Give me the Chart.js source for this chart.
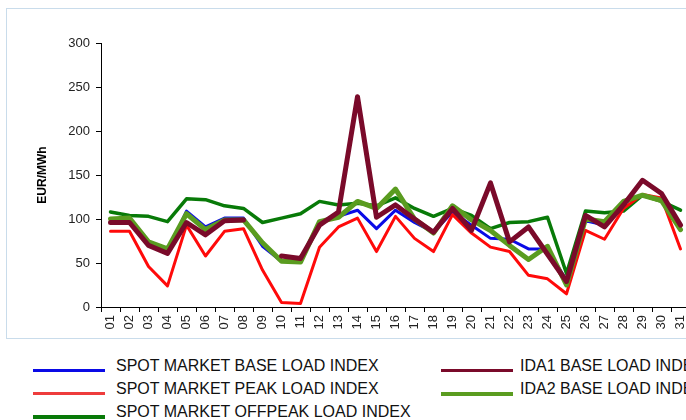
<!DOCTYPE html>
<html>
<head>
<meta charset="utf-8">
<script src="https://cdn.jsdelivr.net/npm/chart.js@4.4.1/dist/chart.umd.min.js"></script>
<style>
  html, body { margin: 0; padding: 0; width: 686px; height: 420px; overflow: hidden; background: #fff; font-family: "Liberation Sans", Arial, sans-serif; }
  #panel { position: absolute; left: 6px; top: 8px; width: 760px; height: 329px; border: 1px solid #c9dceb; background: #fff; }
  #wrap { position: absolute; left: 0; top: 0; width: 700px; height: 340px; }
  .lg { position: absolute; font-size: 16px; color: #111; white-space: nowrap; line-height: 18px; }
  .sw { position: absolute; height: 4px; width: 72px; }
</style>
</head>
<body>
<div id="panel"></div>
<div id="wrap"><canvas id="c" width="700" height="340"></canvas></div>
<div id="legend"></div>
<script>
const days = ["01","02","03","04","05","06","07","08","09","10","11","12","13","14","15","16","17","18","19","20","21","22","23","24","25","26","27","28","29","30","31"];
const yTicks = [0, 50, 100, 150, 200, 250, 300];
const seriesNames = ["SPOT MARKET BASE LOAD INDEX", "SPOT MARKET PEAK LOAD INDEX", "SPOT MARKET OFFPEAK LOAD INDEX", "IDA1 BASE LOAD INDEX", "IDA2 BASE LOAD INDEX"];
const spotBase    = [98,100,72,63,109,91,101,101,69,52,51,97,103,110,89,110,96,85,108,93,78,77,66,66,30,98,93,118,127,122,89];
const spotPeak    = [86,86,46,24,93,58,86,89,42,5,4,68,91,101,63,103,78,63,105,84,68,63,36,32,15,87,77,112,128,124,66];
const spotOffpeak = [108,104,103,97,123,122,115,112,96,101,106,120,116,118,115,124,112,103,112,104,89,96,97,102,38,109,107,109,127,120,110];
const ida1Base    = [96,96,70,61,96,82,98,99,null,58,55,93,108,239,102,116,100,85,112,87,141,74,91,60,29,104,91,116,144,129,93];
const ida2Base    = [100,101,74,66,106,88,99,99,73,52,51,97,102,120,112,134,100,84,115,99,87,70,54,69,25,100,97,120,127,121,88];

const colors = ["#0a0ae6", "#ff0a0a", "#087a08", "#7a0a2a", "#5a9c20"];
const legendColors = ["#0a0ae6", "#ee3c3c", "#087a08", "#7a0a2a", "#5a9c20"];
const widths = [3, 3, 3.5, 5, 5];
const orders = [4, 2, 3, 0, 1];
const values = [spotBase, spotPeak, spotOffpeak, ida1Base, ida2Base];

const datasets = values.map((v, i) => ({
  label: seriesNames[i],
  data: v,
  borderColor: colors[i],
  backgroundColor: colors[i],
  borderWidth: widths[i],
  pointRadius: 0,
  tension: 0,
  fill: false,
  order: orders[i],
  borderJoinStyle: 'round',
  borderCapStyle: 'round'
}));

new Chart(document.getElementById('c'), {
  type: 'line',
  data: { labels: days, datasets },
  options: {
    responsive: false,
    animation: false,
    devicePixelRatio: 1,
    layout: { padding: { left: 0, top: 43, right: 10, bottom: 0 } },
    plugins: { legend: { display: false }, tooltip: { enabled: false } },
    scales: {
      y: {
        min: 0, max: 300,
        afterBuildTicks: s => { s.ticks = yTicks.map(v => ({ value: v })); },
        afterFit: s => { s.width = 101; },
        ticks: { color: '#222', font: { family: "Liberation Sans", size: 13 }, padding: 6 },
        grid: { drawOnChartArea: false, drawTicks: true, tickLength: 5, tickColor: '#000', color: '#000' },
        border: { display: true, color: '#000', width: 1, dash: [4, 3] },
        title: { display: true, text: 'EUR/MWh', color: '#000', font: { family: "Liberation Sans", size: 12, weight: 'bold' }, padding: { top: 35, bottom: 0 } }
      },
      x: {
        offset: true,
        afterFit: s => { s.height = 33; },
        ticks: { color: '#222', font: { family: "Liberation Sans", size: 13 }, maxRotation: 90, minRotation: 90, autoSkip: false, padding: 3 },
        grid: { offset: true, drawOnChartArea: false, drawTicks: true, tickLength: 5, tickColor: '#000', color: '#000' },
        border: { display: true, color: '#000', width: 1, dash: [4, 3] }
      }
    }
  }
});

// HTML legend
const legendPos = [
  { sx: 33, tx: 116, y: 366 },
  { sx: 33, tx: 116, y: 389 },
  { sx: 33, tx: 116, y: 412 },
  { sx: 441, tx: 520, y: 366 },
  { sx: 441, tx: 520, y: 389 }
];
const swatchH = [3, 3, 4, 3, 4];
const lg = document.getElementById('legend');
seriesNames.forEach((name, i) => {
  const p = legendPos[i];
  const sw = document.createElement('div');
  sw.className = 'sw';
  sw.style.left = p.sx + 'px';
  sw.style.top = (p.y + 3) + 'px';
  sw.style.background = legendColors[i];
  sw.style.height = swatchH[i] + 'px';
  lg.appendChild(sw);
  const t = document.createElement('div');
  t.className = 'lg';
  t.textContent = name;
  t.style.left = p.tx + 'px';
  t.style.top = (p.y - 9) + 'px';
  lg.appendChild(t);
});
</script>
</body>
</html>
